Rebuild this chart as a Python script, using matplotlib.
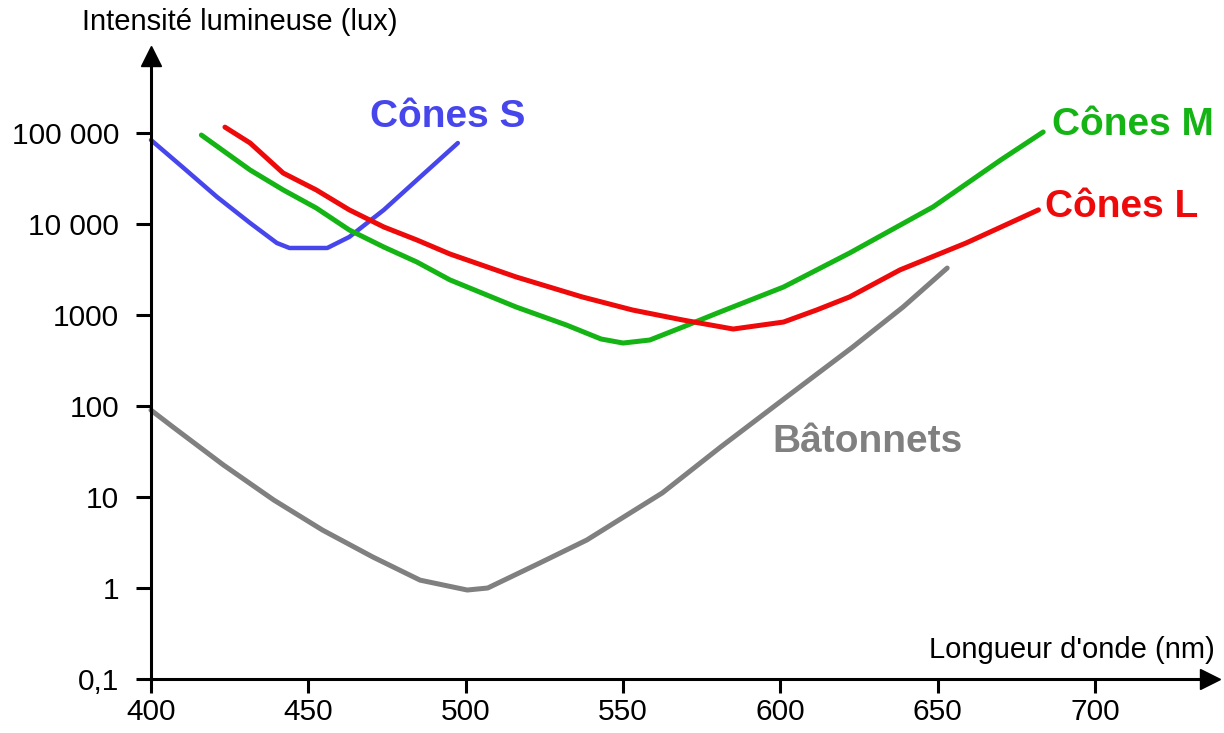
import numpy as np
import matplotlib
matplotlib.use("Agg")
import matplotlib.pyplot as plt

plt.rcParams['font.family'] = ['Liberation Sans', 'DejaVu Sans']

# seuils de sensibilite
s_nm = [400, 410, 421, 431.5, 440, 444, 456, 463, 474, 484.5, 497.5]
s_lux = [83700, 42300, 19800, 10250, 6180, 5450, 5450, 7200, 14300, 30500, 77600]

m_nm = [416, 431.5, 442, 452.5, 463, 474, 484.5, 495, 516, 532, 543, 550,
        558.5, 569, 580, 601, 622, 648.5, 670, 683.5]
m_lux = [95000, 39200, 23700, 15000, 8600, 5580, 3820, 2430, 1225, 776, 545, 492,
         531, 738, 1052, 2030, 4800, 15400, 50500, 102600]

l_nm = [423.5, 431.5, 442, 452.5, 463, 474, 484.5, 495, 516, 537, 553, 569,
        585, 601, 611.5, 622, 638, 659, 682]
l_lux = [116000, 77600, 36300, 23700, 14300, 9270, 6670, 4680, 2620, 1580, 1135, 881,
         701, 837, 1135, 1580, 3130, 6180, 14300]

rod_nm = [400, 407, 423, 439, 454.5, 470.5, 485.5, 500.5, 507, 523.5, 538.5,
          562.5, 581, 602, 623, 639, 653]
rod_lux = [90, 58.7, 22.5, 9.27, 4.33, 2.19, 1.22, 0.95, 1.0, 1.88, 3.37,
           11.1, 35.4, 126, 445, 1225, 3280]

x_ticks = [400, 450, 500, 550, 600, 650, 700]
y_ticks = [0.1, 1, 10, 100, 1000, 10000, 100000]
y_labels = ["0,1", "1", "10", "100", "1000", "10 000", "100 000"]

blue = "#4646EC"
green = "#14B414"
red = "#EE0A0A"
gray = "#808080"

W, H = 1224, 733
fig = plt.figure(figsize=(W / 100, H / 100), dpi=100)
x0, x1, y0, y1 = 151, 1210, 679, 56
ax = fig.add_axes([x0 / W, 1 - y0 / H, (x1 - x0) / W, (y0 - y1) / H])

ax.set_yscale("log")
ax.set_xlim(400, 400 + (x1 - x0) / 3.147)
ax.set_ylim(0.1, 10 ** ((y0 - y1) / 91 - 1))

lw = 3.6
kw = dict(solid_capstyle="round", solid_joinstyle="round", clip_on=False)
ax.plot(rod_nm, rod_lux, color=gray, lw=lw, **kw)
ax.plot(s_nm, s_lux, color=blue, lw=3.2, **kw)
ax.plot(m_nm, m_lux, color=green, lw=lw, **kw)
ax.plot(l_nm, l_lux, color=red, lw=lw, **kw)

fs = 28
ax.text(469.6, 10 ** 5.066, "Cônes S", color=blue, fontsize=fs, fontweight="bold",
        ha="left", va="baseline")
ax.text(686.3, 10 ** 4.978, "Cônes M", color=green, fontsize=fs, fontweight="bold",
        ha="left", va="baseline", clip_on=False)
ax.text(684.1, 10 ** 4.077, "Cônes L", color=red, fontsize=fs, fontweight="bold",
        ha="left", va="baseline", clip_on=False)
ax.text(597.3, 10 ** 1.495, "Bâtonnets", color=gray, fontsize=fs, fontweight="bold",
        ha="left", va="baseline")

# axes avec fleches
for side in ["top", "right"]:
    ax.spines[side].set_visible(False)
for side in ["left", "bottom"]:
    ax.spines[side].set_linewidth(2.2)
    ax.spines[side].set_color("black")
ax.plot(1, 0, marker=">", color="black", markersize=15, transform=ax.transAxes, clip_on=False)
ax.plot(0, 1, marker="^", color="black", markersize=15, transform=ax.transAxes, clip_on=False)

ax.set_xticks(x_ticks)
ax.set_xticklabels([str(v) for v in x_ticks])
ax.set_yticks(y_ticks)
ax.set_yticklabels(y_labels)
ax.minorticks_off()
ax.tick_params(axis="both", direction="out", width=2.2, labelsize=21.5, color="black")
ax.tick_params(axis="x", length=10, pad=4)
ax.tick_params(axis="y", length=11, pad=12)

fig.text(240 / W, 1 - 22 / H, "Intensité lumineuse (lux)", fontsize=21,
         ha="center", va="center")
fig.text(1215 / W, 1 - 650 / H, "Longueur d'onde (nm)", fontsize=21,
         ha="right", va="center")

fig.savefig("out.png", dpi=100)
